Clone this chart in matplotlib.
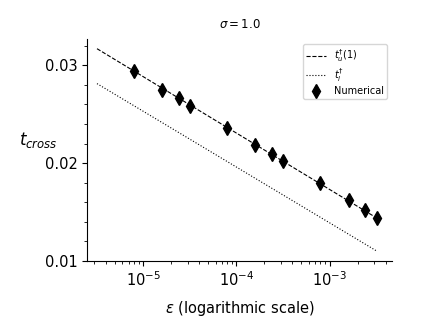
import matplotlib
matplotlib.use("Agg")
import matplotlib.pyplot as plt
from matplotlib.ticker import MultipleLocator

# Numerical data
eps_num = [8e-6, 1.6e-5, 2.4e-5, 3.2e-5, 8e-5, 1.6e-4, 2.4e-4, 3.2e-4, 8e-4, 1.6e-3, 2.4e-3, 3.2e-3]
t_num = [0.02939, 0.0275, 0.02663, 0.02589, 0.02361, 0.02187, 0.02092, 0.02017, 0.01793, 0.01619, 0.01517, 0.01442]

# Analytical lines (straight in semilog-x)
eps_line = [3.2e-6, 3.2e-3]
t_upper = [0.0317, 0.0144]
t_lower = [0.02813, 0.01102]

fig = plt.figure(figsize=(4.36, 3.27), dpi=100)
ax = fig.add_axes([0.2, 0.202, 0.699, 0.679])

ax.plot(eps_line, t_upper, 'k--', lw=0.8, label=r'$t_u^{\dagger}(1)$')
ax.plot(eps_line, t_lower, 'k:', lw=0.8, label=r'$t_l^{\dagger}$')
ax.plot(eps_num, t_num, 'kd', ms=7, ls='none', label='Numerical')

ax.set_xscale('log')
ax.set_xlim(10**-5.6, 10**-2.33)
ax.set_ylim(0.01, 0.0327)
ax.yaxis.set_major_locator(MultipleLocator(0.01))
ax.yaxis.set_minor_locator(MultipleLocator(0.002))
ax.spines['top'].set_visible(False)
ax.spines['right'].set_visible(False)
ax.tick_params(axis='both', which='major', labelsize=10.5)

ax.set_title(r'$\sigma = 1.0$', fontsize=8.5, pad=8)
ax.set_xlabel(r'$\epsilon$ (logarithmic scale)', fontsize=10.5, labelpad=7)
ax.set_ylabel(r'$t_{cross}$', fontsize=12, rotation=0)
ax.yaxis.set_label_coords(-0.16, 0.5)
ax.legend(fontsize=7, loc='upper right', labelspacing=0.25, handleheight=0.6,
          borderpad=0.35, handletextpad=0.8)

fig.savefig('out.png', dpi=100)
